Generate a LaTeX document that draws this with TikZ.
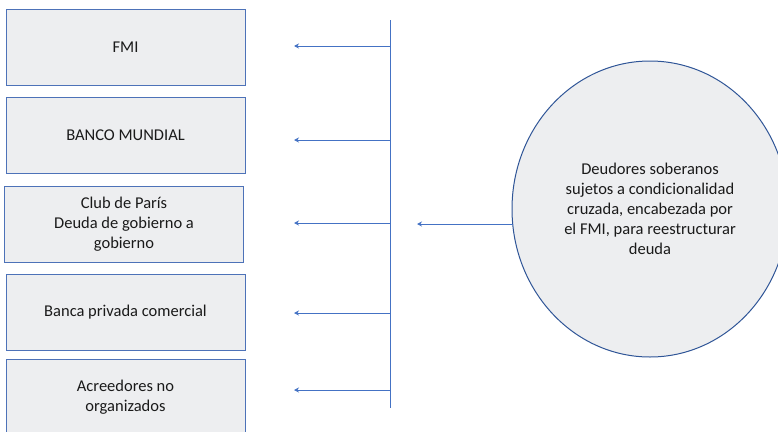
\documentclass[tikz,border=0pt]{standalone}
\usepackage{fontspec}
\setmainfont{Carlito}
\usetikzlibrary{shapes.geometric,arrows.meta}
\definecolor{boxfill}{HTML}{EDEEF0}
\definecolor{boxline}{HTML}{4D72B8}
\definecolor{circline}{HTML}{2F5597}
\definecolor{arrline}{HTML}{4472C4}
\definecolor{txt}{HTML}{1A1A1A}
\tikzset{
  creditor/.style={draw=boxline, fill=boxfill, line width=1pt, minimum width=239pt, minimum height=76pt, inner sep=0pt, align=center, text=txt, font=\fontsize{16.5}{20}\selectfont},
  debtor/.style={ellipse, draw=circline, fill=boxfill, line width=1pt, minimum width=276pt, minimum height=296pt, inner sep=0pt, align=center, text=txt, font=\fontsize{16.5}{20}\selectfont},
  link/.style={draw=arrline, line width=1pt, -{Stealth[length=5pt,width=5pt]}},
  spine/.style={draw=arrline, line width=1pt}
}
\begin{document}
\begin{tikzpicture}[x=1pt,y=-1pt]
\useasboundingbox (0,0) rectangle (778,431);
\node[creditor] (fmi) at (125.5,47) {FMI};
\node[creditor] (bm) at (125.5,135.5) {BANCO MUNDIAL};
\node[creditor] (cp) at (124,224) {Club de París\\Deuda de gobierno a\\gobierno};
\node[creditor] (bp) at (125.5,312) {Banca privada comercial};
\node[creditor] (ac) at (125.5,397) {Acreedores no\\organizados};
\node[debtor] (deu) at (650,209) {Deudores soberanos\\sujetos a condicionalidad\\cruzada, encabezada por\\el FMI, para reestructurar\\deuda};
\coordinate (top) at (390,20);
\coordinate (bot) at (390,408);
\draw[spine] (top) -- (bot);
\foreach \n/\y in {a/46,b/140,c/223,d/313,e/390}{
  \coordinate (s\n) at (390,\y);
  \coordinate (t\n) at (294,\y);
  \draw[link] (s\n) -- (t\n);
}
\coordinate (dsrc) at (513,224);
\coordinate (dtgt) at (417,224);
\draw[link] (dsrc) -- (dtgt);
\end{tikzpicture}
\end{document}
